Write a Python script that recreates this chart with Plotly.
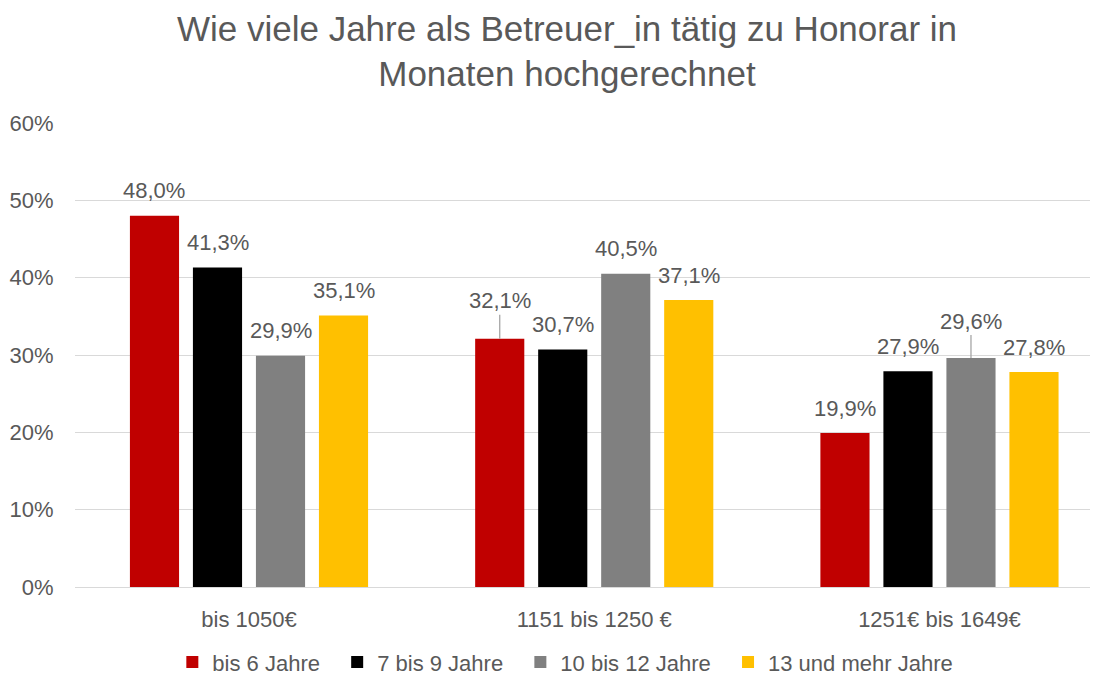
import plotly.graph_objects as go

categories = ["bis 1050€", "1151 bis 1250 €", "1251€ bis 1649€"]
series_names = ["bis 6 Jahre", "7 bis 9 Jahre", "10 bis 12 Jahre", "13 und mehr Jahre"]
bis_6 = [0.480, 0.321, 0.199]
bis_9 = [0.413, 0.307, 0.279]
bis_12 = [0.299, 0.405, 0.296]
ab_13 = [0.351, 0.371, 0.278]
series_values = [bis_6, bis_9, bis_12, ab_13]
labels = [[f"{v*100:.1f}%".replace(".", ",") for v in s] for s in series_values]

# styles
colors = ["#C00000", "#000000", "#808080", "#FFC000"]
text_color = "#595959"
FONT = "Liberation Sans, Arial, sans-serif"
bargap = 0.27
bargroupgap = 0.22
slot = (1 - bargap) / 4
# label leader lines (series index, category index) -> pixel offset of label centre
leader = {(0, 1): 38, (2, 2): 37}
default_shift = 25
legend_pad = "\u00a0\u00a0"

fig = go.Figure()
for s, name in enumerate(series_names):
    fig.add_trace(go.Bar(
        name=name + legend_pad, x=categories, y=series_values[s],
        marker=dict(color=colors[s], line=dict(width=0)),
        hoverinfo="skip",
    ))

annotations = []
for s in range(4):
    for c in range(3):
        xpos = c + (s - 1.5) * slot
        v = series_values[s][c]
        if (s, c) in leader:
            annotations.append(dict(
                x=xpos, y=v, xref="x", yref="y", text=labels[s][c],
                showarrow=True, ax=0, ay=-leader[(s, c)], arrowhead=0,
                arrowwidth=1.3, arrowcolor="#a6a6a6", standoff=0,
                font=dict(size=22, color=text_color, family=FONT),
            ))
        else:
            annotations.append(dict(
                x=xpos, y=v, xref="x", yref="y", text=labels[s][c],
                showarrow=False, yanchor="middle", yshift=default_shift,
                font=dict(size=22, color=text_color, family=FONT),
            ))

# the page body adds an 8px margin; size the figure so it fills the window
fig.update_layout(
    width=1095, height=669,
    paper_bgcolor="white", plot_bgcolor="white",
    margin=dict(l=67, r=13, t=115, b=90, autoexpand=False),
    barmode="group", bargap=bargap, bargroupgap=bargroupgap,
    font=dict(family=FONT, color=text_color, size=22),
    title=dict(
        text="Wie viele Jahre als Betreuer_in tätig zu Honorar in<br>Monaten hochgerechnet",
        x=0.5105, xanchor="center", xref="container",
        y=0.951, yanchor="middle", yref="container",
        font=dict(size=35, color=text_color, family=FONT),
    ),
    xaxis=dict(
        type="category", range=[-0.504, 2.436], automargin=False,
        showgrid=False, showline=False, zeroline=False,
        ticks="outside", ticklen=13, tickcolor="rgba(0,0,0,0)",
        tickfont=dict(size=22, color=text_color),
    ),
    yaxis=dict(
        range=[0, 0.6], dtick=0.1, tickformat=".0%", automargin=False,
        showgrid=True, gridcolor="#d9d9d9", gridwidth=1.3,
        zeroline=True, zerolinecolor="#d9d9d9", zerolinewidth=1.3,
        showline=False,
        ticks="outside", ticklen=16, tickcolor="rgba(0,0,0,0)",
        tickfont=dict(size=22, color=text_color),
    ),
    legend=dict(
        orientation="h", x=0.489, xanchor="center", y=-0.162, yanchor="middle",
        font=dict(size=22, color=text_color), bgcolor="rgba(0,0,0,0)",
        itemwidth=30,
    ),
    annotations=annotations,
)

fig.write_html("out.html")
